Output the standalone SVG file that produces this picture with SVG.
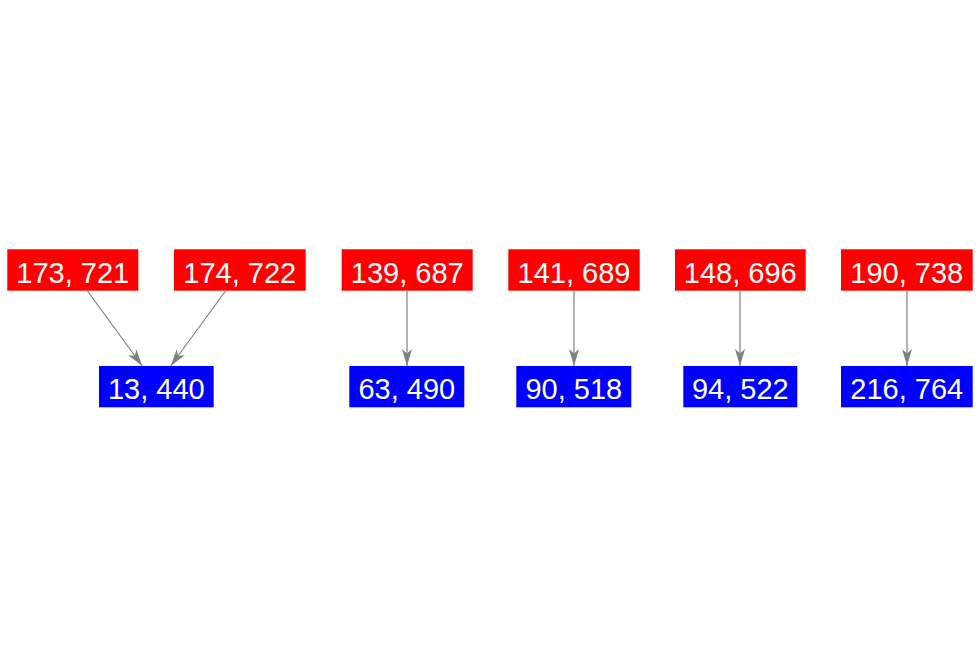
<svg xmlns="http://www.w3.org/2000/svg" width="979" height="656" viewBox="0 0 979 656">
<style>
.r{fill:#ff0000}
.b{fill:#0000ff}
text{font-family:"Liberation Sans",Arial,sans-serif;font-size:29px;fill:#ffffff;text-anchor:middle}
.e{stroke:#808080;stroke-width:1.2;fill:none;marker-end:url(#ah)}
</style>
<defs>
<marker id="ah" markerUnits="userSpaceOnUse" viewBox="-18 -6 19 12" refX="0" refY="0" markerWidth="19" markerHeight="12" orient="auto">
<path d="M0,0 L-17,-5 L-12.5,0 L-17,5 Z" fill="#808080"/>
</marker>
</defs>
<rect width="979" height="656" fill="#ffffff"/>
<g id="edges">
<line class="e" x1="87.5" y1="291" x2="142.3" y2="366"/>
<line class="e" x1="225.5" y1="291" x2="170.7" y2="366"/>
<line class="e" x1="407" y1="291" x2="407" y2="366"/>
<line class="e" x1="574" y1="291" x2="574" y2="366"/>
<line class="e" x1="740" y1="291" x2="740" y2="366"/>
<line class="e" x1="907" y1="291" x2="907" y2="366"/>
</g>
<g id="n173"><rect class="r" x="7.3" y="249.3" width="131" height="41.4"/><text x="72.8" y="282.7">173, 721</text></g>
<g id="n174"><rect class="r" x="174" y="249.3" width="131.7" height="41.4"/><text x="239.8" y="282.7">174, 722</text></g>
<g id="n139"><rect class="r" x="341.7" y="249.3" width="131" height="41.4"/><text x="407.2" y="282.7">139, 687</text></g>
<g id="n141"><rect class="r" x="508.3" y="249.3" width="131.4" height="41.4"/><text x="574" y="282.7">141, 689</text></g>
<g id="n148"><rect class="r" x="675" y="249.3" width="130.7" height="41.4"/><text x="740.3" y="282.7">148, 696</text></g>
<g id="n190"><rect class="r" x="841" y="249.3" width="131.7" height="41.4"/><text x="906.8" y="282.7">190, 738</text></g>
<g id="n13"><rect class="b" x="99" y="366" width="114.7" height="41.3"/><text x="156.3" y="398.6">13, 440</text></g>
<g id="n63"><rect class="b" x="349.3" y="366" width="115" height="41.3"/><text x="406.8" y="398.6">63, 490</text></g>
<g id="n90"><rect class="b" x="516.3" y="366" width="115" height="41.3"/><text x="573.8" y="398.6">90, 518</text></g>
<g id="n94"><rect class="b" x="683.3" y="366" width="114" height="41.3"/><text x="740.3" y="398.6">94, 522</text></g>
<g id="n216"><rect class="b" x="841" y="366" width="131.7" height="41.3"/><text x="906.8" y="398.6">216, 764</text></g>
</svg>
